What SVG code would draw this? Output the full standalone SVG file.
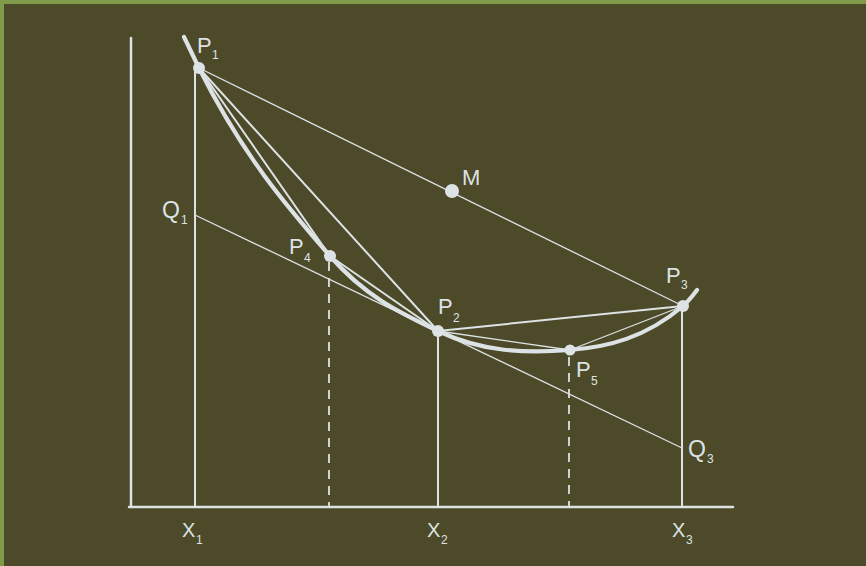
<svg xmlns="http://www.w3.org/2000/svg" width="866" height="566" viewBox="0 0 866 566">
  <style>
    .ln { stroke: #dde2e4; fill: none; stroke-linecap: round; }
    .axis { stroke-width: 2.5; }
    .v { stroke-width: 2; }
    .dash { stroke-width: 1.8; stroke-dasharray: 9 7; stroke-linecap: butt; }
    .chord { stroke-width: 2; }
    .thin { stroke-width: 1.3; }
    .curve { stroke-width: 4.2; }
    .dot { fill: #dde2e4; }
    .lbl { fill: #dde2e4; font-family: "Liberation Sans", Arial, sans-serif; font-size: 22px; }
    .q { font-size: 23px; }
    .sub { fill: #dde2e4; font-family: "Liberation Sans", Arial, sans-serif; font-size: 12px; }
    .xl { fill: #dde2e4; font-family: "Liberation Sans", Arial, sans-serif; font-size: 20px; }
  </style>
  <rect x="0" y="0" width="866" height="566" fill="#7f9a48"/>
  <rect x="4" y="4" width="862" height="562" fill="#4c4a28"/>

  <g id="axes">
    <line class="ln axis" x1="131" y1="38" x2="131" y2="507"/>
    <line class="ln axis" x1="129" y1="507" x2="733" y2="507"/>
  </g>

  <g id="connectors">
    <line class="ln v" x1="195" y1="68" x2="195" y2="507"/>
    <line class="ln v" x1="438" y1="331" x2="438" y2="507"/>
    <line class="ln v" x1="682" y1="306" x2="682" y2="507"/>
    <line class="ln dash" x1="329" y1="262" x2="329" y2="507"/>
    <line class="ln dash" x1="569" y1="357" x2="569" y2="507"/>
    <line class="ln thin" x1="199" y1="68" x2="683" y2="306"/>
    <line class="ln thin" x1="195" y1="215" x2="682" y2="448"/>
    <line class="ln chord" x1="199" y1="68" x2="438" y2="331"/>
    <line class="ln chord" x1="199" y1="68" x2="330" y2="256"/>
    <line class="ln chord" x1="330" y1="256" x2="438" y2="331"/>
    <line class="ln chord" x1="438" y1="331" x2="683" y2="306"/>
    <line class="ln thin" x1="438" y1="331" x2="570" y2="350"/>
    <line class="ln thin" x1="570" y1="350" x2="683" y2="306"/>
    <path class="ln curve" d="M184,37 C189,47 194,58 199,68 C242.7,155.4 286.3,205.7 330,256 C366,297.4 402,313.7 438,331 C482,352.1 526,353.5 570,350 C607.7,347 645.3,338 683,306 C687.7,302 692.5,296 697,290"/>
  </g>

  <g id="P1">
    <circle class="dot" cx="199" cy="68" r="6"/>
    <text class="lbl" x="197" y="53">P</text>
    <text class="sub" x="212" y="59">1</text>
  </g>
  <g id="M">
    <circle class="dot" cx="452" cy="191" r="7"/>
    <text class="lbl" x="462" y="185">M</text>
  </g>
  <g id="Q1">
    <text class="lbl q" x="162" y="218">Q</text>
    <text class="sub" x="181" y="224">1</text>
  </g>
  <g id="P4">
    <circle class="dot" cx="330" cy="256" r="6"/>
    <text class="lbl" x="289" y="254">P</text>
    <text class="sub" x="304" y="262">4</text>
  </g>
  <g id="P2">
    <circle class="dot" cx="438" cy="331" r="6"/>
    <text class="lbl" x="438" y="314">P</text>
    <text class="sub" x="453" y="322">2</text>
  </g>
  <g id="P5">
    <circle class="dot" cx="570" cy="350" r="5.5"/>
    <text class="lbl" x="576" y="377">P</text>
    <text class="sub" x="591" y="385">5</text>
  </g>
  <g id="P3">
    <circle class="dot" cx="683" cy="306" r="6"/>
    <text class="lbl" x="666" y="283">P</text>
    <text class="sub" x="681" y="289">3</text>
  </g>
  <g id="Q3">
    <text class="lbl q" x="688" y="457">Q</text>
    <text class="sub" x="707" y="463">3</text>
  </g>
  <g id="X1">
    <text class="xl" x="182" y="537">X</text>
    <text class="sub" x="196" y="544">1</text>
  </g>
  <g id="X2">
    <text class="xl" x="427" y="537">X</text>
    <text class="sub" x="441" y="544">2</text>
  </g>
  <g id="X3">
    <text class="xl" x="672" y="537">X</text>
    <text class="sub" x="686" y="544">3</text>
  </g>
</svg>
